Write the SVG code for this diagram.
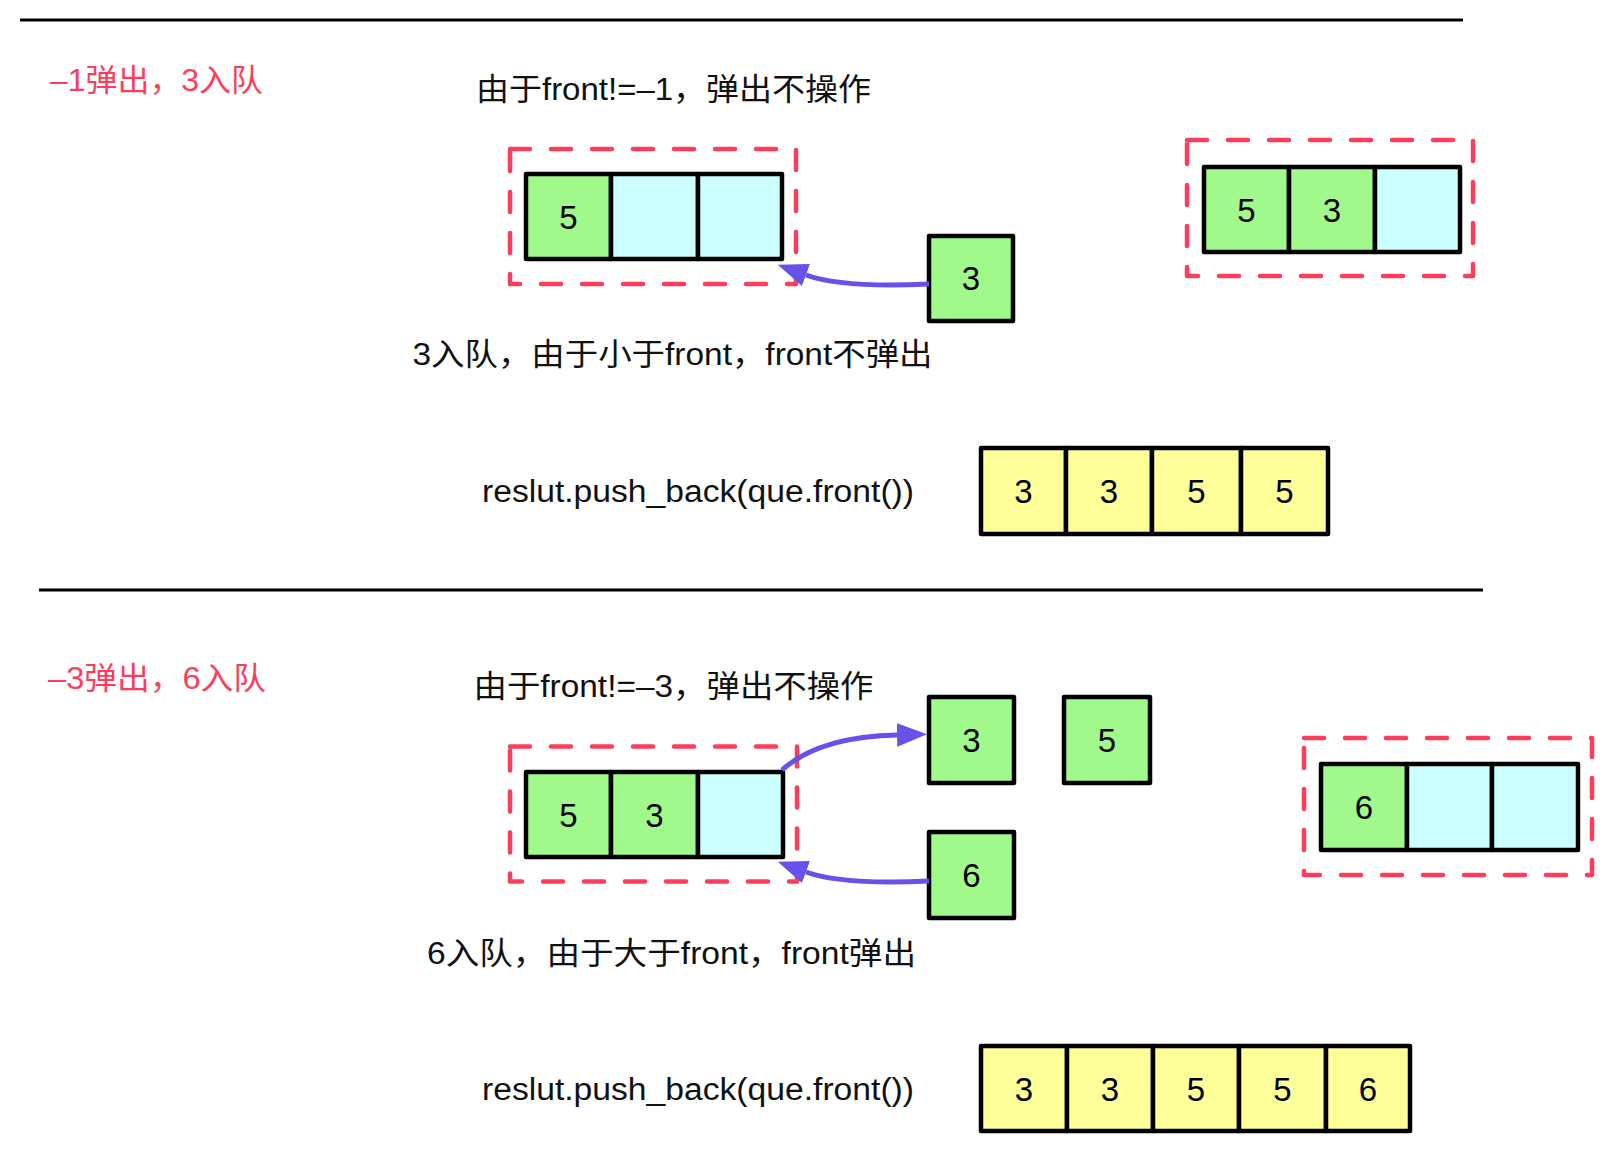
<svg xmlns="http://www.w3.org/2000/svg" width="1610" height="1176" viewBox="0 0 1610 1176">
<style>
.bg{fill:#ffffff}
.sep{stroke:#000;stroke-width:3;fill:none}
.dash{fill:none;stroke:#fe3d5c;stroke-width:4.5;stroke-dasharray:20 21;stroke-linecap:round;stroke-linejoin:round}
.g{fill:#a1f98b;stroke:#000;stroke-width:4.5;stroke-linejoin:round}
.c{fill:#ccffff;stroke:#000;stroke-width:4.5;stroke-linejoin:round}
.y{fill:#ffff99;stroke:#000;stroke-width:4.5;stroke-linejoin:round}
.num{font-family:"Liberation Sans","Noto Sans CJK SC",sans-serif;font-size:33px;fill:#000;text-anchor:middle}
.t{font-family:"Liberation Sans","Noto Sans CJK SC",sans-serif;font-size:31px;fill:#111}
.r{font-family:"Liberation Sans","Noto Sans CJK SC",sans-serif;font-size:31px;fill:#fe3d5c}
.arr{fill:none;stroke:#6651ea;stroke-width:5}
</style>
<defs>
<marker id="ah" markerUnits="userSpaceOnUse" markerWidth="30" markerHeight="24" viewBox="0 0 28 22" refX="0" refY="11" orient="auto">
<path d="M0,0 L28,11 L0,22 z" fill="#6651ea"/>
</marker>
</defs>
<rect class="bg" x="0" y="0" width="1610" height="1176"/>

<g id="separators">
<line class="sep" x1="20" y1="20" x2="1463" y2="20"/>
<line class="sep" x1="39" y1="590" x2="1483" y2="590"/>
</g>

<g id="labels">
<text class="r" x="50" y="90.5" textLength="213" lengthAdjust="spacingAndGlyphs">–1弹出，3入队</text>
<text class="t" x="476" y="99.5" textLength="395" lengthAdjust="spacingAndGlyphs">由于front!=–1，弹出不操作</text>
<text class="t" x="412.5" y="364.8" textLength="520" lengthAdjust="spacingAndGlyphs">3入队，由于小于front，front不弹出</text>
<text class="t" x="482" y="502" textLength="432" lengthAdjust="spacingAndGlyphs">reslut.push_back(que.front())</text>
<text class="r" x="48" y="688.8" textLength="218" lengthAdjust="spacingAndGlyphs">–3弹出，6入队</text>
<text class="t" x="473.5" y="697.3" textLength="400" lengthAdjust="spacingAndGlyphs">由于front!=–3，弹出不操作</text>
<text class="t" x="427" y="963.8" textLength="489" lengthAdjust="spacingAndGlyphs">6入队，由于大于front，front弹出</text>
<text class="t" x="482" y="1099.5" textLength="432" lengthAdjust="spacingAndGlyphs">reslut.push_back(que.front())</text>
</g>

<g id="queue1">
<rect class="dash" x="510" y="149" width="286" height="135"/>
<rect class="g" x="526" y="174" width="85" height="85"/>
<rect class="c" x="611" y="174" width="87" height="85"/>
<rect class="c" x="698" y="174" width="84" height="85"/>
<text class="num" x="568.5" y="228.5">5</text>
</g>

<g id="incoming3">
<rect class="g" x="929" y="236" width="84" height="85"/>
<text class="num" x="971" y="290">3</text>
</g>

<g id="queue2">
<rect class="dash" x="1187" y="140" width="286" height="136"/>
<rect class="g" x="1204" y="167" width="85" height="85"/>
<rect class="g" x="1289" y="167" width="86" height="85"/>
<rect class="c" x="1375" y="167" width="85" height="85"/>
<text class="num" x="1246.5" y="221.5">5</text>
<text class="num" x="1332" y="221.5">3</text>
</g>

<g id="result1">
<rect class="y" x="981" y="448" width="85" height="86"/>
<rect class="y" x="1066" y="448" width="86" height="86"/>
<rect class="y" x="1152" y="448" width="89" height="86"/>
<rect class="y" x="1241" y="448" width="87" height="86"/>
<text class="num" x="1023.5" y="503">3</text>
<text class="num" x="1109" y="503">3</text>
<text class="num" x="1196.5" y="503">5</text>
<text class="num" x="1284.5" y="503">5</text>
</g>

<g id="queue3">
<rect class="dash" x="510" y="746.5" width="287" height="135"/>
<rect class="g" x="526" y="772" width="85" height="85"/>
<rect class="g" x="611" y="772" width="87" height="85"/>
<rect class="c" x="698" y="772" width="85" height="85"/>
<text class="num" x="568.5" y="826.5">5</text>
<text class="num" x="654.5" y="826.5">3</text>
</g>

<g id="popped3">
<rect class="g" x="929" y="697" width="85" height="86"/>
<text class="num" x="971.5" y="752">3</text>
</g>

<g id="popped5">
<rect class="g" x="1064" y="697" width="86" height="86"/>
<text class="num" x="1107" y="752">5</text>
</g>

<g id="incoming6">
<rect class="g" x="929" y="832" width="85" height="86"/>
<text class="num" x="971.5" y="887">6</text>
</g>

<g id="queue4">
<rect class="dash" x="1304" y="738" width="288" height="137"/>
<rect class="g" x="1321" y="764" width="86" height="86"/>
<rect class="c" x="1407" y="764" width="85" height="86"/>
<rect class="c" x="1492" y="764" width="86" height="86"/>
<text class="num" x="1364" y="819">6</text>
</g>

<g id="result2">
<rect class="y" x="981" y="1046" width="86" height="85"/>
<rect class="y" x="1067" y="1046" width="86" height="85"/>
<rect class="y" x="1153" y="1046" width="86" height="85"/>
<rect class="y" x="1239" y="1046" width="87" height="85"/>
<rect class="y" x="1326" y="1046" width="84" height="85"/>
<text class="num" x="1024" y="1100.5">3</text>
<text class="num" x="1110" y="1100.5">3</text>
<text class="num" x="1196" y="1100.5">5</text>
<text class="num" x="1282.5" y="1100.5">5</text>
<text class="num" x="1368" y="1100.5">6</text>
</g>

<g id="connectors">
<path class="arr" d="M929,284 C885,286 836,286 806,275" marker-end="url(#ah)"/>
<path class="arr" d="M782,770 C810,745 850,736 897,735" marker-end="url(#ah)"/>
<path class="arr" d="M929,881 C885,883 836,883 806,872" marker-end="url(#ah)"/>
</g>
</svg>
